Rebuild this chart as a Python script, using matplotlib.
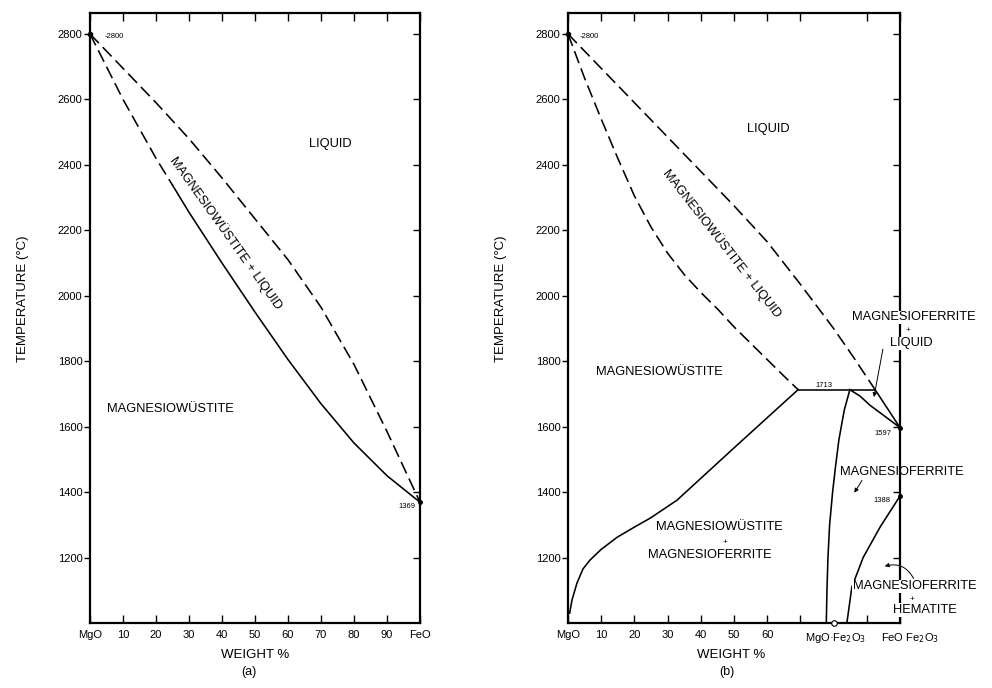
import matplotlib
matplotlib.use("Agg")
import matplotlib.pyplot as plt

plt.rcParams['font.family'] = ['Liberation Sans', 'DejaVu Sans']

# ---------------- data (a) MgO-FeO ----------------
a_liq_x = [0, 10, 20, 30, 40, 50, 60, 70, 80, 90, 100]
a_liq_T = [2800, 2695, 2590, 2480, 2360, 2235, 2110, 1965, 1790, 1585, 1369]
a_sol_dash_x = [0, 10, 20, 25]
a_sol_dash_T = [2800, 2600, 2420, 2338]
a_sol_x = [25, 30, 40, 50, 60, 70, 80, 90, 100]
a_sol_T = [2338, 2255, 2100, 1950, 1805, 1670, 1550, 1450, 1369]

# ---------------- data (b) MgO-iron oxide in air ----------------
b_liq_x = [0, 10, 20, 30, 40, 50, 60, 70, 80, 86, 92.5]
b_liq_T = [2800, 2695, 2590, 2485, 2380, 2275, 2165, 2035, 1900, 1812, 1713]
b_liq2_x = [92.5, 100]
b_liq2_T = [1713, 1597]
b_sol_x = [0, 5, 10, 15, 20, 25, 30, 35, 40, 45, 50, 55, 60, 65, 69.3]
b_sol_T = [2800, 2665, 2540, 2420, 2305, 2210, 2130, 2065, 2010, 1960, 1905,
           1855, 1805, 1755, 1713]
b_iso_x = [69.3, 92.5]
b_iso_T = [1713, 1713]
b_solvus_x = [0.5, 1.2, 2.7, 4.5, 6.6, 10, 14.8, 20, 24.7, 32.8, 50, 69.3]
b_solvus_T = [1030, 1070, 1122, 1165, 1192, 1225, 1262, 1293, 1320, 1375, 1535,
              1713]
b_mf_left_x = [84.9, 83.2, 81.6, 80.6, 79.7, 78.8, 78.3, 78.0, 77.8]
b_mf_left_T = [1713, 1650, 1560, 1480, 1400, 1300, 1200, 1100, 1000]
b_mf_top_x = [84.9, 88, 91, 95, 100]
b_mf_top_T = [1713, 1693, 1665, 1635, 1597]
b_mf_right_x = [84, 85.5, 88.9, 94, 100]
b_mf_right_T = [1000, 1110, 1200, 1293, 1388]

yticks = [1200, 1400, 1600, 1800, 2000, 2200, 2400, 2600, 2800]
a_xticks = [0, 10, 20, 30, 40, 50, 60, 70, 80, 90, 100]
a_xlabels = ["MgO", "10", "20", "30", "40", "50", "60", "70", "80", "90", "FeO"]
b_xticks = [0, 10, 20, 30, 40, 50, 60, 70, 90, 100]
b_xlabels = ["MgO", "10", "20", "30", "40", "50", "60", "", "", ""]

fig = plt.figure(figsize=(9.92, 6.88), dpi=100)
W, H = 992, 688
axA = fig.add_axes([90 / W, (H - 623) / H, 330 / W, 610 / H])
axB = fig.add_axes([568 / W, (H - 623) / H, 332 / W, 610 / H])

DASH = (0, (8, 3.5))
LW = 1.15
K = 'black'
SMALL = 5.5
REG = 9.3


def style(ax, xticks, xlabels):
    ax.set_xlim(0, 100)
    ax.set_ylim(1000, 2864)
    for s in ax.spines.values():
        s.set_linewidth(1.6)
    ax.set_yticks(yticks)
    ax.set_yticklabels([str(v) for v in yticks])
    ax.tick_params(axis='y', direction='out', length=4, width=1,
                   labelsize=8, pad=1.5, right=False)
    ax.set_xticks(xticks)
    ax.set_xticklabels(xlabels)
    ax.tick_params(axis='x', direction='in', length=6, width=1, labelsize=8,
                   pad=5, top=True)
    ax.set_ylabel("TEMPERATURE (°C)", fontsize=9.5)
    ax.yaxis.set_label_coords(-0.185, 0.532)
    tw = ax.twinx()
    tw.set_ylim(ax.get_ylim())
    tw.set_yticks(yticks)
    tw.tick_params(axis='y', direction='in', length=5, width=1, labelright=False)
    for s in tw.spines.values():
        s.set_visible(False)
    return tw


style(axA, a_xticks, a_xlabels)
style(axB, b_xticks, b_xlabels)

# ---------- panel (a) ----------
axA.plot(a_liq_x, a_liq_T, color=K, lw=LW, linestyle=DASH)
axA.plot(a_sol_dash_x, a_sol_dash_T, color=K, lw=LW, linestyle=DASH)
axA.plot(a_sol_x, a_sol_T, color=K, lw=LW)
axA.plot([0], [2800], 'o', color=K, ms=3, clip_on=False)
axA.plot([100], [1369], 'o', color=K, ms=2.5, clip_on=False)
axA.text(4.5, 2792, "-2800", fontsize=SMALL, va='center', ha='left')
axA.text(96, 1356, "1369", fontsize=SMALL, va='center', ha='center')
axA.text(72.7, 2463, "LIQUID", fontsize=REG, ha='center', va='center')
axA.text(24.5, 1653, "MAGNESIOWÜSTITE", fontsize=REG, ha='center', va='center')
axA.text(41.2, 2191, "MAGNESIOWÜSTITE + LIQUID", fontsize=REG, ha='center',
         va='center', rotation=-54.5, rotation_mode='anchor')
axA.text(0.5, -0.052, "WEIGHT %", transform=axA.transAxes, fontsize=9.5,
         ha='center', va='center')
axA.text(0.48, -0.08, "(a)", transform=axA.transAxes, fontsize=9,
         ha='center', va='center')

# ---------- panel (b) ----------
axB.plot(b_liq_x, b_liq_T, color=K, lw=LW, linestyle=DASH)
axB.plot(b_liq2_x, b_liq2_T, color=K, lw=LW)
axB.plot(b_sol_x, b_sol_T, color=K, lw=LW, linestyle=DASH)
axB.plot(b_iso_x, b_iso_T, color=K, lw=LW)
axB.plot(b_solvus_x, b_solvus_T, color=K, lw=LW)
axB.plot(b_mf_left_x, b_mf_left_T, color=K, lw=LW)
axB.plot(b_mf_top_x, b_mf_top_T, color=K, lw=LW)
axB.plot(b_mf_right_x, b_mf_right_T, color=K, lw=LW)
axB.plot([0], [2800], 'o', color=K, ms=3, clip_on=False)
axB.plot([100], [1597], 'o', color=K, ms=2.5, clip_on=False)
axB.plot([100], [1388], 'o', color=K, ms=2.5, clip_on=False)
axB.plot([80], [1000], 'o', mfc='white', mec=K, ms=4, mew=0.8, clip_on=False,
         zorder=5)

axB.text(3.6, 2792, "-2800", fontsize=SMALL, va='center', ha='left')
axB.text(77.1, 1727, "1713", fontsize=SMALL, ha='center', va='center')
axB.text(95, 1580, "1597", fontsize=SMALL, ha='center', va='center')
axB.text(94.6, 1375, "1388", fontsize=SMALL, ha='center', va='center')

axB.text(60.2, 2511, "LIQUID", fontsize=REG, ha='center', va='center')
axB.text(46.4, 2160, "MAGNESIOWÜSTITE + LIQUID", fontsize=REG, ha='center',
         va='center', rotation=-52, rotation_mode='anchor')
axB.text(27.4, 1766, "MAGNESIOWÜSTITE", fontsize=REG, ha='center', va='center')
axB.text(45.5, 1293, "MAGNESIOWÜSTITE", fontsize=REG, ha='center', va='center')
axB.text(47.3, 1247, "+", fontsize=6, ha='center', va='center')
axB.text(42.8, 1208, "MAGNESIOFERRITE", fontsize=REG, ha='center', va='center')

wb = dict(facecolor='white', edgecolor='none', pad=0.5)
axB.text(104.2, 1934, "MAGNESIOFERRITE", fontsize=REG, ha='center', va='center',
         bbox=wb, zorder=6)
axB.text(102.4, 1893, "+", fontsize=6, ha='center', va='center', bbox=wb, zorder=6)
axB.text(103.3, 1855, "LIQUID", fontsize=REG, ha='center', va='center', bbox=wb,
         zorder=6)
axB.text(100.6, 1461, "MAGNESIOFERRITE", fontsize=REG, ha='center', va='center',
         zorder=6)
axB.text(104.5, 1112, "MAGNESIOFERRITE", fontsize=REG, ha='center', va='center',
         bbox=wb, zorder=6)
axB.text(103.6, 1072, "+", fontsize=6, ha='center', va='center', zorder=6)
axB.text(107.5, 1040, "HEMATITE", fontsize=REG, ha='center', va='center',
         bbox=wb, zorder=6)

arr = dict(arrowstyle='-|>', color=K, lw=0.7, mutation_scale=6)
axB.annotate("", xy=(92.0, 1682), xytext=(95.0, 1845), arrowprops=arr,
             annotation_clip=False)
axB.annotate("", xy=(85.8, 1391), xytext=(89.0, 1443), arrowprops=arr,
             annotation_clip=False)
axB.annotate("", xy=(94.6, 1171), xytext=(104.5, 1128),
             arrowprops=dict(arrowstyle='-|>', color=K, lw=0.7, mutation_scale=6,
                             connectionstyle='arc3,rad=0.45'),
             annotation_clip=False)

axB.text(80.7, -0.024, "MgO·Fe$_2$O$_3$", transform=axB.get_xaxis_transform(),
         fontsize=8, ha='center', va='center')
axB.text(103.0, -0.024, "FeO Fe$_2$O$_3$", transform=axB.get_xaxis_transform(),
         fontsize=8, ha='center', va='center')
axB.text(0.49, -0.052, "WEIGHT %", transform=axB.transAxes, fontsize=9.5,
         ha='center', va='center')
axB.text(0.48, -0.08, "(b)", transform=axB.transAxes, fontsize=9,
         ha='center', va='center')

fig.savefig("out.png", dpi=100)
